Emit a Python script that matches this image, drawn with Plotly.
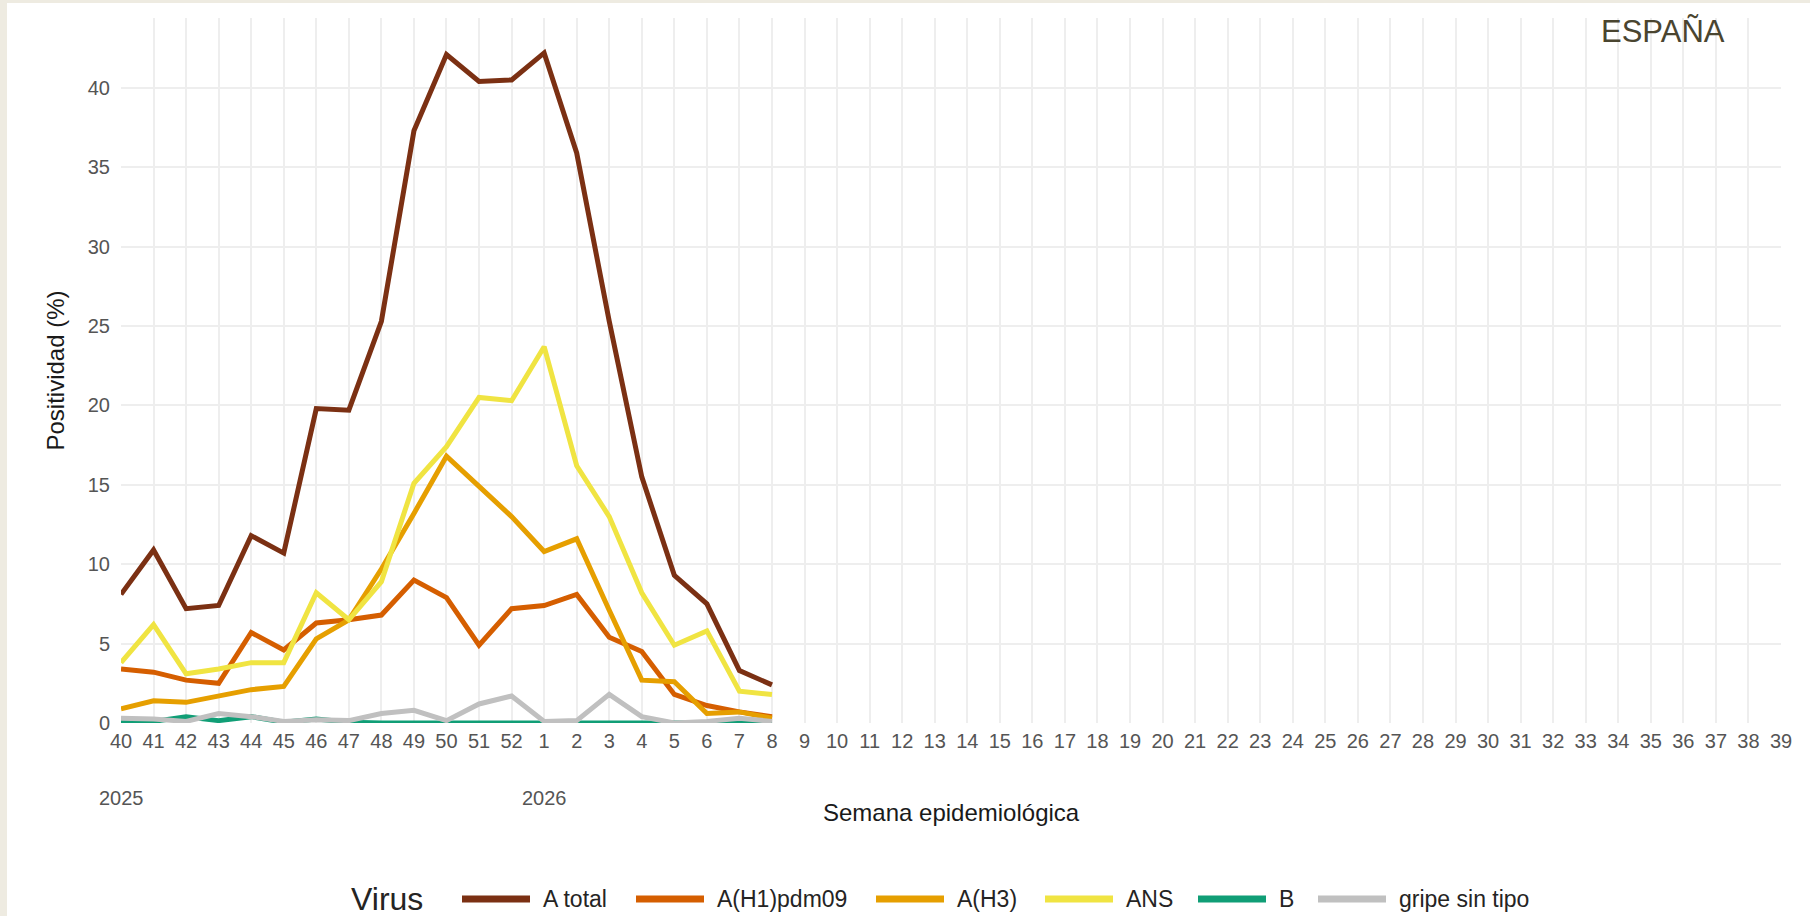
import plotly.graph_objects as go

# Epidemiological weeks of the 2025/2026 season (week 40 to week 39)
weeks = ["40", "41", "42", "43", "44", "45", "46", "47", "48", "49", "50", "51", "52",
         "1", "2", "3", "4", "5", "6", "7", "8", "9", "10", "11", "12", "13", "14",
         "15", "16", "17", "18", "19", "20", "21", "22", "23", "24", "25", "26", "27",
         "28", "29", "30", "31", "32", "33", "34", "35", "36", "37", "38", "39"]

# Weeks with data so far
weeks_reported = ["40", "41", "42", "43", "44", "45", "46", "47", "48", "49", "50",
                  "51", "52", "1", "2", "3", "4", "5", "6", "7", "8"]

# Positivity (%) per virus
a_total = [8.1, 10.9, 7.2, 7.4, 11.8, 10.7, 19.8, 19.7, 25.3, 37.3, 42.1,
           40.4, 40.5, 42.2, 35.9, 25.3, 15.5, 9.3, 7.5, 3.3, 2.4]
a_h1pdm09 = [3.4, 3.2, 2.7, 2.5, 5.7, 4.6, 6.3, 6.5, 6.8, 9.0, 7.9,
             4.9, 7.2, 7.4, 8.1, 5.4, 4.5, 1.8, 1.1, 0.7, 0.4]
a_h3 = [0.9, 1.4, 1.3, 1.7, 2.1, 2.3, 5.3, 6.5, 9.7, 13.2, 16.8,
        14.9, 13.0, 10.8, 11.6, 7.1, 2.7, 2.6, 0.6, 0.7, 0.3]
ans = [3.8, 6.2, 3.1, 3.4, 3.8, 3.8, 8.2, 6.5, 8.9, 15.1, 17.4,
       20.5, 20.3, 23.7, 16.2, 13.0, 8.2, 4.9, 5.8, 2.0, 1.8]
b = [0.1, 0.1, 0.4, 0.15, 0.4, 0.05, 0.25, 0.05, 0.0, 0.0, 0.0,
     0.0, 0.0, 0.0, 0.0, 0.0, 0.0, 0.0, 0.0, 0.0, 0.0]
gripe_sin_tipo = [0.3, 0.25, 0.1, 0.6, 0.4, 0.1, 0.2, 0.15, 0.6, 0.8, 0.15,
                  1.2, 1.7, 0.1, 0.15, 1.8, 0.4, 0.0, 0.1, 0.3, 0.1]

# Season year labels and the week they sit under
year_labels = ["2025", "2026"]
year_weeks = ["40", "1"]

series = [
    ("A total", a_total, "#7B3013"),
    ("A(H1)pdm09", a_h1pdm09, "#D55E00"),
    ("A(H3)", a_h3, "#E69F00"),
    ("ANS", ans, "#F0E442"),
    ("B", b, "#109E76"),
    ("gripe sin tipo", gripe_sin_tipo, "#C0C0C0"),
]

FONT = "Liberation Sans, Arial, sans-serif"
W, H = 1810, 916
PLOT_L, PLOT_R, PLOT_T, PLOT_B = 121, 1781, 18, 723


def px(x):
    return (x - PLOT_L) / (PLOT_R - PLOT_L)


def py(y):
    return (PLOT_B - y) / (PLOT_B - PLOT_T)


fig = go.Figure()
for name, values, color in series:
    fig.add_trace(go.Scatter(
        x=weeks_reported, y=values, name=name, mode="lines",
        line=dict(color=color, width=5), showlegend=False,
    ))

shapes = [
    # white card over the beige page
    dict(type="rect", xref="paper", yref="paper", x0=px(7), x1=px(W + 20),
         y0=py(H + 20), y1=py(3), fillcolor="white", line=dict(width=0),
         layer="below"),
]

annotations = [
    dict(text="ESPAÑA", xref="paper", yref="paper", x=px(1663), y=py(31),
         xanchor="center", yanchor="middle", showarrow=False,
         font=dict(family=FONT, size=31, color="#4A4530")),
    dict(text="Positividad (%)", xref="paper", yref="paper", x=px(55), y=0.5,
         textangle=-90, xanchor="center", yanchor="middle", showarrow=False,
         font=dict(family=FONT, size=24, color="#1A1A1A")),
    dict(text="Semana epidemiológica", xref="paper", yref="paper", x=0.5,
         y=py(812), xanchor="center", yanchor="middle", showarrow=False,
         font=dict(family=FONT, size=24, color="#1A1A1A")),
]

# Year labels placed on the category axis (by category index)
for label, wk in zip(year_labels, year_weeks):
    annotations.append(dict(
        text=label, x=weeks.index(wk), xref="x", yref="paper", y=py(798),
        xanchor="center", yanchor="middle", showarrow=False,
        font=dict(family=FONT, size=20, color="#555555"),
    ))

# Legend drawn as line swatches with labels
legend_y = py(899)
annotations.append(dict(
    text="Virus", xref="paper", yref="paper", x=px(349), y=legend_y,
    xanchor="left", yanchor="middle", showarrow=False,
    font=dict(family=FONT, size=32, color="#252423"),
))
swatch_starts = [462, 636, 876, 1045, 1198, 1318]
for (name, _, color), x0 in zip(series, swatch_starts):
    shapes.append(dict(
        type="line", xref="paper", yref="paper", x0=px(x0), x1=px(x0 + 68),
        y0=legend_y, y1=legend_y, line=dict(color=color, width=7),
    ))
    annotations.append(dict(
        text=name, xref="paper", yref="paper", x=px(x0 + 79), y=legend_y,
        xanchor="left", yanchor="middle", showarrow=False,
        font=dict(family=FONT, size=23, color="#252423"),
    ))

fig.update_layout(
    width=W, height=H,
    margin=dict(l=PLOT_L, r=W - PLOT_R, t=PLOT_T, b=H - PLOT_B, pad=0),
    paper_bgcolor="#EEEBE1",
    plot_bgcolor="white",
    showlegend=False,
    shapes=shapes,
    annotations=annotations,
    xaxis=dict(
        type="category", categoryorder="array", categoryarray=weeks,
        tickvals=weeks, ticktext=weeks,
        range=[0, len(weeks) - 1],
        showgrid=True, gridcolor="#EEEEEE", gridwidth=2,
        zeroline=False, showline=False, ticks="",
        ticklabelstandoff=4,
        tickfont=dict(family=FONT, size=20, color="#555555"),
    ),
    yaxis=dict(
        range=[0, 44.4], dtick=5, tick0=0,
        showgrid=True, gridcolor="#EEEEEE", gridwidth=2,
        zeroline=False, showline=False, ticks="",
        ticklabelstandoff=10,
        tickfont=dict(family=FONT, size=20, color="#555555"),
    ),
)

fig.write_html("out.html")
